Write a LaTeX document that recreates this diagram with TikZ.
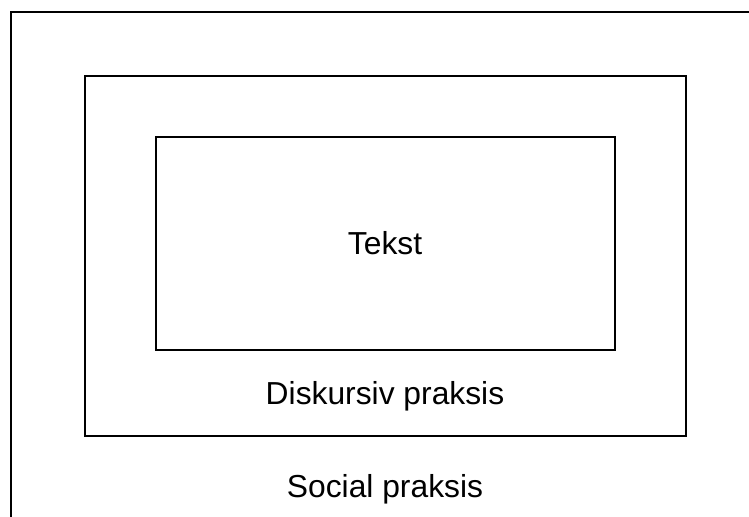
\documentclass[tikz,border=0pt]{standalone}
\usepackage{fontspec}
\setmainfont{Liberation Sans}
\usetikzlibrary{positioning}

\begin{document}
\begin{tikzpicture}[
  x=0.5pt, y=-0.5pt,
  frame/.style={rectangle, draw, line width=0.9pt, inner sep=0pt},
  lbl/.style={font=\fontsize{15.9}{18}\selectfont, inner sep=0pt},
]
  \useasboundingbox (0,0) rectangle (749,517);
  \clip (0,0) rectangle (749,517);

  % outer level runs off the page on the right and at the bottom
  \draw[line width=0.9pt] (11,540) -- (11,12) -- (780,12);

  \node[frame, minimum width=300.5pt, minimum height=180pt] (disk) at (385.5,256) {};
  \node[frame, minimum width=229.5pt, minimum height=106.5pt] (tekst) at (385.5,243.5) {};

  \node[lbl] (tekstlbl) at (385,243) {Tekst};
  \node[lbl] (disklbl) at (385,396) {Diskursiv praksis};
  \node[lbl] (soclbl) at (385,489) {Social praksis};
\end{tikzpicture}
\end{document}
